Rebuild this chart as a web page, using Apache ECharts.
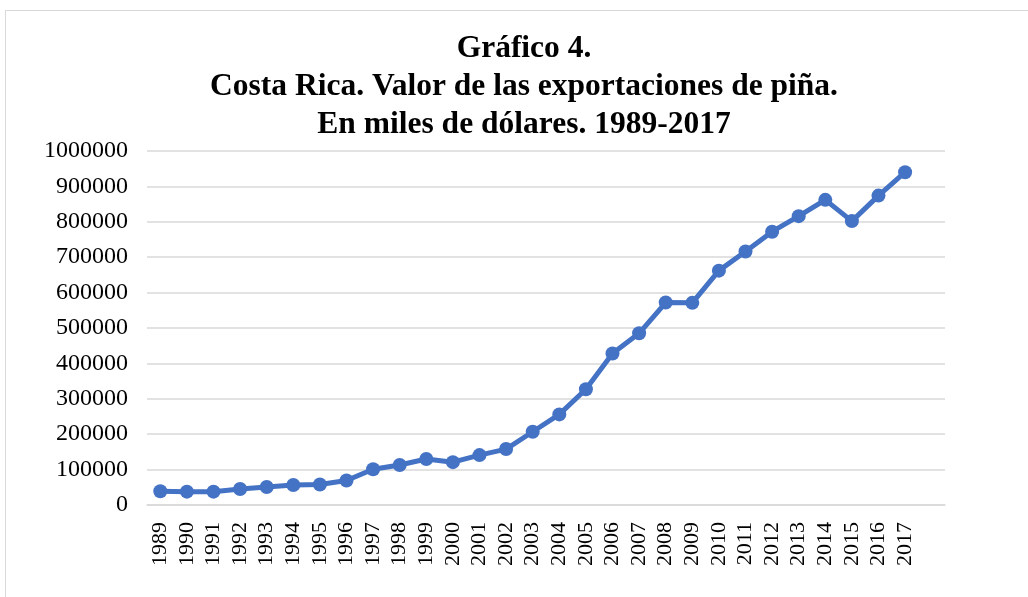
<!DOCTYPE html>
<html>
<head>
<meta charset="utf-8">
<script src="https://cdn.jsdelivr.net/npm/echarts@6/dist/echarts.min.js"></script>
<style>
  html, body {margin: 0; padding: 0; background: #fff; overflow: hidden;}
  #frame {position: absolute; left: 5px; top: 10px; width: 1100px; height: 700px; border: 1.5px solid #d9d9d9;}
  #main {position: absolute; left: 0; top: 0; width: 1028px; height: 597px;}
</style>
</head>
<body>
<div id="frame"></div>
<div id="main"></div>
<script>
// años (la última categoría vacía, como en el gráfico original)
const years = ['1989', '1990', '1991', '1992', '1993', '1994', '1995', '1996', '1997', '1998',
    '1999', '2000', '2001', '2002', '2003', '2004', '2005', '2006', '2007', '2008',
    '2009', '2010', '2011', '2012', '2013', '2014', '2015', '2016', '2017', ''];
// miles de dólares
const exportValues = [39000, 37700, 37700, 45000, 51000, 56500, 58000, 69000, 101000, 113000,
    130000, 121000, 141000, 158000, 207000, 256000, 327000, 428000, 485000, 572000,
    571000, 662000, 716000, 772000, 816000, 862000, 802000, 874000, 940000, null];

const chartDom = document.getElementById('main');
const myChart = echarts.init(chartDom, null, {renderer: 'canvas'});
let option;

option = {
    backgroundColor: 'transparent',
    animation: false,
    title: {
        text: 'Gráfico 4.\nCosta Rica. Valor de las exportaciones de piña.\nEn miles de dólares. 1989-2017',
        left: 524,
        top: 30,
        padding: 0,
        textAlign: 'center',
        textStyle: {
            fontFamily: 'Liberation Serif',
            fontWeight: 'bold',
            fontSize: 31.5,
            lineHeight: 38,
            color: '#000'
        }
    },
    grid: {
        left: 147,
        right: 83,
        top: 151,
        bottom: 92,
        containLabel: false
    },
    xAxis: {
        type: 'category',
        data: years,
        boundaryGap: true,
        axisTick: {show: false},
        axisLine: {lineStyle: {color: '#d9d9d9', width: 1.5}},
        axisLabel: {
            rotate: 90,
            margin: 17,
            interval: 0,
            fontFamily: 'Liberation Serif',
            fontSize: 22,
            color: '#000'
        }
    },
    yAxis: {
        type: 'value',
        min: 0,
        max: 1000000,
        interval: 100000,
        axisLine: {show: false},
        axisTick: {show: false},
        splitLine: {lineStyle: {color: '#d9d9d9', width: 1.5}},
        axisLabel: {
            margin: 19,
            fontFamily: 'Liberation Serif',
            fontSize: 24,
            color: '#000',
            formatter: (v) => String(v)
        }
    },
    series: [
        {
            name: 'Exportaciones de piña',
            type: 'line',
            data: exportValues,
            color: '#4472C4',
            symbol: 'circle',
            symbolSize: 14,
            lineStyle: {width: 5, color: '#4472C4'},
            itemStyle: {color: '#4472C4'}
        }
    ]
};

option && myChart.setOption(option);
</script>
</body>
</html>
